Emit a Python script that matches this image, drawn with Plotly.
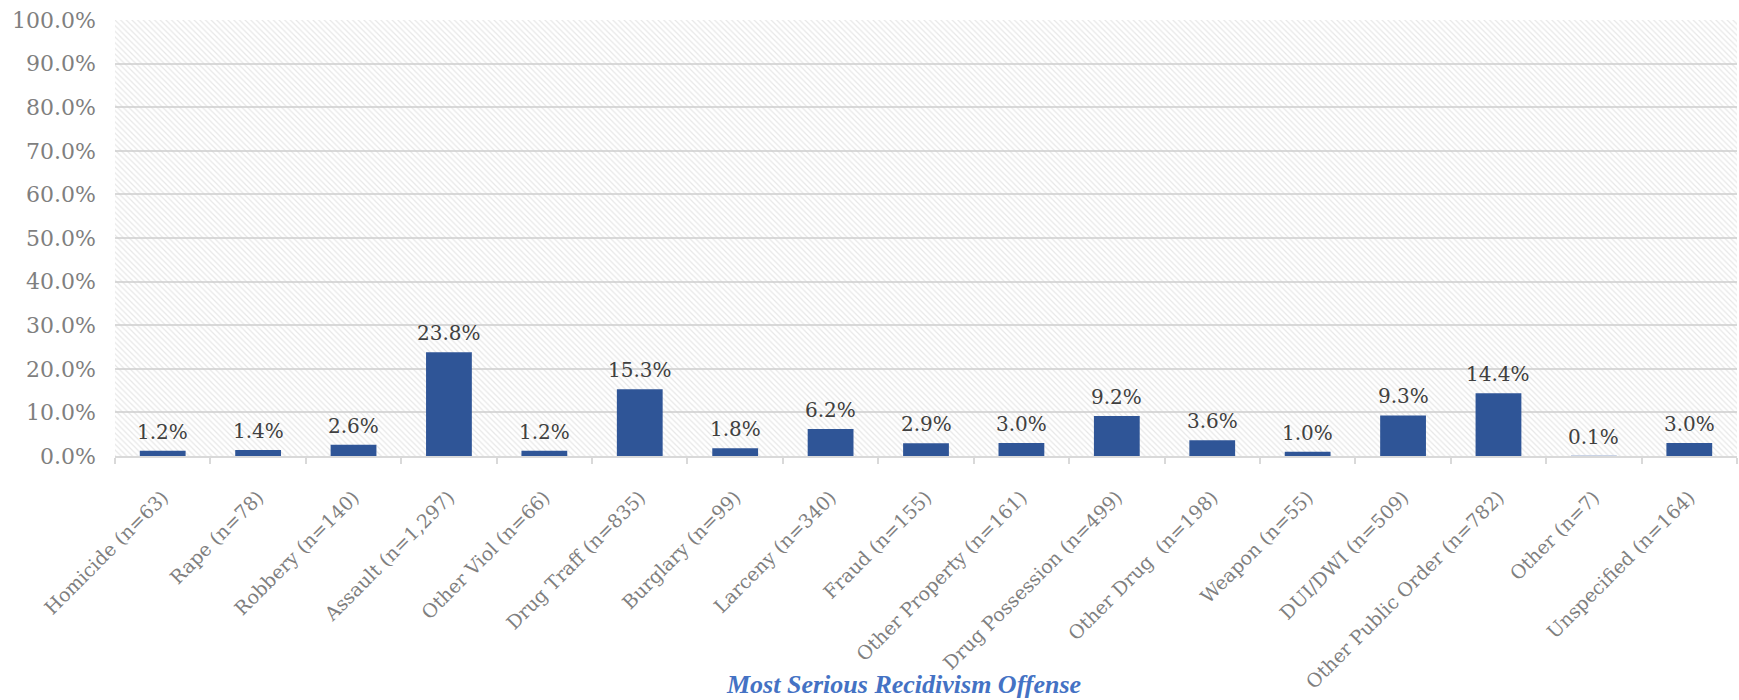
import plotly.graph_objects as go

# Most serious recidivism offense: category labels and shares (%)
categories = [
    "Homicide (n=63)", "Rape (n=78)", "Robbery (n=140)", "Assault (n=1,297)",
    "Other Viol (n=66)", "Drug Traff (n=835)", "Burglary (n=99)", "Larceny (n=340)",
    "Fraud (n=155)", "Other Property (n=161)", "Drug Possession (n=499)",
    "Other Drug  (n=198)", "Weapon (n=55)", "DUI/DWI (n=509)",
    "Other Public Order (n=782)", "Other (n=7)", "Unspecified (n=164)",
]
shares = [1.2, 1.4, 2.6, 23.8, 1.2, 15.3, 1.8, 6.2, 2.9, 3.0, 9.2, 3.6, 1.0, 9.3, 14.4, 0.1, 3.0]
y_ticks = [0, 10, 20, 30, 40, 50, 60, 70, 80, 90, 100]
y_tick_text = [f"{v:.1f}%" for v in y_ticks]
x_title = "Most Serious Recidivism Offense"

SERIF = "DejaVu Serif, Liberation Serif, serif"
BAR_BLUE = "#2f5597"
GRID = "#d9d9d9"

fig = go.Figure()

# Hatched plot-area fill: one transparent bar spanning every category
fig.add_trace(go.Bar(
    x=[categories[len(categories) // 2]], y=[y_ticks[-1]], width=[len(categories)],
    marker=dict(color="rgba(0,0,0,0)", line=dict(width=0),
                pattern=dict(shape="\\", fgcolor="#d0d0d0", bgcolor="rgba(0,0,0,0)",
                             size=4, solidity=0.3)),
    hoverinfo="skip", showlegend=False,
))

fig.add_trace(go.Bar(
    x=categories, y=shares, width=0.48,
    marker=dict(color=[BAR_BLUE if v >= 0.5 else "#c9d3e6" for v in shares], line=dict(width=0)),
    showlegend=False,
))

for c, v in zip(categories, shares):
    fig.add_annotation(
        x=c, y=v, text=f"{v:.1f}%", showarrow=False, yanchor="bottom", yshift=5,
        font=dict(family=SERIF, size=20, color="#404040"),
    )

fig.add_annotation(
    x=0.486, y=-0.525, xref="paper", yref="paper", text=f"<b><i>{x_title}</i></b>",
    showarrow=False, xanchor="center", yanchor="middle",
    font=dict(family="Liberation Serif, serif", size=26, color="#4472c4"),
)

fig.update_layout(
    width=1739, height=700,
    margin=dict(l=115, r=2, t=20, b=244),
    barmode="overlay",
    plot_bgcolor="white", paper_bgcolor="white",
    xaxis=dict(
        type="category", categoryorder="array", categoryarray=categories,
        range=[-0.5, len(categories) - 0.5], automargin=False,
        tickangle=-45, tickson="boundaries", ticks="outside", ticklen=6,
        tickcolor=GRID, tickwidth=1.5, showline=True, linecolor=GRID, linewidth=1.5,
        showgrid=False, ticklabelstandoff=21,
        tickfont=dict(family=SERIF, size=19, color="#7f7f7f"),
    ),
    yaxis=dict(
        range=[0, 100], tickvals=y_ticks, ticktext=y_tick_text, automargin=False,
        showgrid=True, gridcolor=GRID, gridwidth=1.5, zeroline=False,
        ticks="", ticklabelstandoff=18,
        tickfont=dict(family=SERIF, size=22, color="#7f7f7f"),
    ),
)

fig.write_html("out.html")
